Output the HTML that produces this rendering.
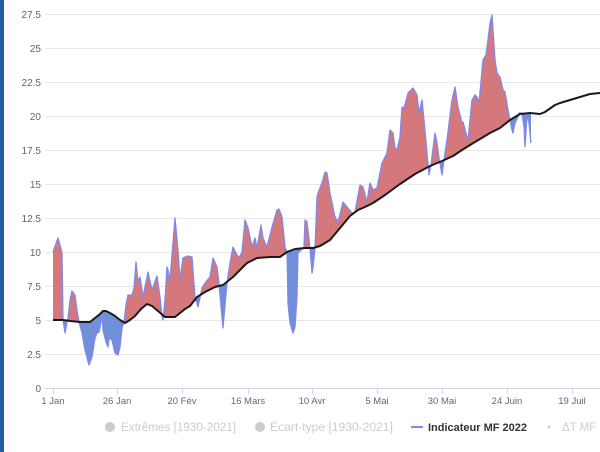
<!DOCTYPE html>
<html><head><meta charset="utf-8"><style>
html,body{margin:0;padding:0;background:#fff;}
svg{display:block;}
text{font-family:"Liberation Sans",sans-serif;}
</style></head><body>
<svg width="600" height="452" viewBox="0 0 600 452" xmlns="http://www.w3.org/2000/svg">
<rect x="0" y="0" width="600" height="452" fill="#fff"/>
<rect x="0" y="0" width="4" height="452" fill="#1f5d9e"/>
<g stroke="#e8e8e8" stroke-width="1">
<line x1="45" y1="14.5" x2="600" y2="14.5"/>
<line x1="45" y1="48.5" x2="600" y2="48.5"/>
<line x1="45" y1="82.5" x2="600" y2="82.5"/>
<line x1="45" y1="116.5" x2="600" y2="116.5"/>
<line x1="45" y1="150.5" x2="600" y2="150.5"/>
<line x1="45" y1="184.5" x2="600" y2="184.5"/>
<line x1="45" y1="218.5" x2="600" y2="218.5"/>
<line x1="45" y1="252.5" x2="600" y2="252.5"/>
<line x1="45" y1="286.5" x2="600" y2="286.5"/>
<line x1="45" y1="320.5" x2="600" y2="320.5"/>
<line x1="45" y1="354.5" x2="600" y2="354.5"/>
</g>
<g fill="#666" font-size="10" text-anchor="end">
<text x="41" y="18">27.5</text>
<text x="41" y="52">25</text>
<text x="41" y="86">22.5</text>
<text x="41" y="120">20</text>
<text x="41" y="154">17.5</text>
<text x="41" y="188">15</text>
<text x="41" y="222">12.5</text>
<text x="41" y="256">10</text>
<text x="41" y="290">7.5</text>
<text x="41" y="324">5</text>
<text x="41" y="358">2.5</text>
<text x="41" y="392">0</text>
</g>
<defs>
<clipPath id="above"><path d="M53,320 L63,320 L70,321 L80,322 L90,322 L95,318 L100,314 L103,311 L106,311 L110,313 L115,316 L120,320 L125,323 L130,320 L135,316 L141,309 L147,304 L152,306 L158,311 L165,317 L175,317 L180,313 L185,309 L190,306 L197,297 L205,292 L215,287 L223,285 L233,277 L240,270 L247,263 L257,258 L270,257 L280,257 L287,252 L295,249 L305,248 L313,248 L320,246 L330,240 L340,228 L350,216 L358,210 L365,207 L373,203 L385,195 L400,184 L415,174 L430,166 L442,161 L453,156 L462,150 L470,145 L480,139 L490,133 L500,128 L510,120 L520,114 L530,113 L540,114 L545,112 L555,105 L560,103 L570,100 L580,97 L590,94 L600,93 L600,0 L53,0 Z"/></clipPath>
<clipPath id="below"><path d="M53,320 L63,320 L70,321 L80,322 L90,322 L95,318 L100,314 L103,311 L106,311 L110,313 L115,316 L120,320 L125,323 L130,320 L135,316 L141,309 L147,304 L152,306 L158,311 L165,317 L175,317 L180,313 L185,309 L190,306 L197,297 L205,292 L215,287 L223,285 L233,277 L240,270 L247,263 L257,258 L270,257 L280,257 L287,252 L295,249 L305,248 L313,248 L320,246 L330,240 L340,228 L350,216 L358,210 L365,207 L373,203 L385,195 L400,184 L415,174 L430,166 L442,161 L453,156 L462,150 L470,145 L480,139 L490,133 L500,128 L510,120 L520,114 L530,113 L540,114 L545,112 L555,105 L560,103 L570,100 L580,97 L590,94 L600,93 L600,400 L53,400 Z"/></clipPath>
</defs>
<!-- red: under data, above normal -->
<path clip-path="url(#above)" fill="#d5787b" d="M53,252 L58,238 L60,245 L62,253 L63,320 L65,333 L67,322 L68,318 L70,300 L72,291 L75,295 L77,310 L79,322 L82,333 L85,350 L89,365 L92,357 L95,338 L97,333 L99,332 L101,322 L102,313 L103,330 L106,342 L108,347 L109,338 L112,340 L115,353 L118,355 L120,347 L122,328 L124,322 L126,305 L128,295 L132,295 L134,288 L136,262 L138,282 L140,277 L143,297 L148,272 L152,290 L157,276 L160,297 L162,317 L163,320 L165,300 L167,267 L168,270 L170,280 L175,218 L178,250 L180,280 L183,258 L188,256 L192,257 L193,270 L195,297 L198,307 L202,288 L205,283 L210,277 L213,258 L217,267 L219,284 L223,328 L227,283 L230,263 L233,247 L237,255 L239,258 L242,252 L245,220 L248,228 L252,247 L255,238 L257,248 L261,225 L263,238 L267,247 L272,227 L277,210 L279,209 L282,217 L285,247 L287,252 L288,303 L290,323 L293,333 L295,327 L297,297 L298,253 L302,249 L304,248 L305,220 L307,222 L310,248 L312,273 L313,267 L315,248 L317,197 L318,193 L322,183 L325,172 L327,173 L330,193 L335,217 L338,222 L343,202 L347,207 L352,213 L355,212 L360,185 L363,187 L367,202 L370,183 L373,190 L377,188 L382,163 L387,153 L390,130 L393,133 L395,148 L397,150 L400,137 L402,107 L404,108 L408,93 L413,88 L417,95 L419,113 L422,100 L424,120 L427,153 L429,175 L431,165 L435,133 L437,143 L439,158 L442,175 L444,160 L447,140 L452,100 L455,87 L458,107 L462,123 L463,122 L467,137 L468,140 L472,100 L475,95 L477,97 L479,103 L483,60 L486,55 L488,40 L490,23 L492,15 L493,30 L495,60 L497,73 L500,77 L503,90 L505,92 L508,110 L510,120 L512,130 L513,133 L515,123 L518,117 L519,113 L522,113 L524,127 L525,147 L527,115 L529,123 L531,143 L531,400 L53,400 Z"/>
<!-- blue: above data, below normal -->
<path clip-path="url(#below)" fill="#6f8fd8" d="M53,252 L58,238 L60,245 L62,253 L63,320 L65,333 L67,322 L68,318 L70,300 L72,291 L75,295 L77,310 L79,322 L82,333 L85,350 L89,365 L92,357 L95,338 L97,333 L99,332 L101,322 L102,313 L103,330 L106,342 L108,347 L109,338 L112,340 L115,353 L118,355 L120,347 L122,328 L124,322 L126,305 L128,295 L132,295 L134,288 L136,262 L138,282 L140,277 L143,297 L148,272 L152,290 L157,276 L160,297 L162,317 L163,320 L165,300 L167,267 L168,270 L170,280 L175,218 L178,250 L180,280 L183,258 L188,256 L192,257 L193,270 L195,297 L198,307 L202,288 L205,283 L210,277 L213,258 L217,267 L219,284 L223,328 L227,283 L230,263 L233,247 L237,255 L239,258 L242,252 L245,220 L248,228 L252,247 L255,238 L257,248 L261,225 L263,238 L267,247 L272,227 L277,210 L279,209 L282,217 L285,247 L287,252 L288,303 L290,323 L293,333 L295,327 L297,297 L298,253 L302,249 L304,248 L305,220 L307,222 L310,248 L312,273 L313,267 L315,248 L317,197 L318,193 L322,183 L325,172 L327,173 L330,193 L335,217 L338,222 L343,202 L347,207 L352,213 L355,212 L360,185 L363,187 L367,202 L370,183 L373,190 L377,188 L382,163 L387,153 L390,130 L393,133 L395,148 L397,150 L400,137 L402,107 L404,108 L408,93 L413,88 L417,95 L419,113 L422,100 L424,120 L427,153 L429,175 L431,165 L435,133 L437,143 L439,158 L442,175 L444,160 L447,140 L452,100 L455,87 L458,107 L462,123 L463,122 L467,137 L468,140 L472,100 L475,95 L477,97 L479,103 L483,60 L486,55 L488,40 L490,23 L492,15 L493,30 L495,60 L497,73 L500,77 L503,90 L505,92 L508,110 L510,120 L512,130 L513,133 L515,123 L518,117 L519,113 L522,113 L524,127 L525,147 L527,115 L529,123 L531,143 L531,0 L53,0 Z"/>
<!-- data line -->
<path fill="none" stroke="#8088ec" stroke-width="1.3" stroke-linejoin="round" d="M53,252 L58,238 L60,245 L62,253 L63,320 L65,333 L67,322 L68,318 L70,300 L72,291 L75,295 L77,310 L79,322 L82,333 L85,350 L89,365 L92,357 L95,338 L97,333 L99,332 L101,322 L102,313 L103,330 L106,342 L108,347 L109,338 L112,340 L115,353 L118,355 L120,347 L122,328 L124,322 L126,305 L128,295 L132,295 L134,288 L136,262 L138,282 L140,277 L143,297 L148,272 L152,290 L157,276 L160,297 L162,317 L163,320 L165,300 L167,267 L168,270 L170,280 L175,218 L178,250 L180,280 L183,258 L188,256 L192,257 L193,270 L195,297 L198,307 L202,288 L205,283 L210,277 L213,258 L217,267 L219,284 L223,328 L227,283 L230,263 L233,247 L237,255 L239,258 L242,252 L245,220 L248,228 L252,247 L255,238 L257,248 L261,225 L263,238 L267,247 L272,227 L277,210 L279,209 L282,217 L285,247 L287,252 L288,303 L290,323 L293,333 L295,327 L297,297 L298,253 L302,249 L304,248 L305,220 L307,222 L310,248 L312,273 L313,267 L315,248 L317,197 L318,193 L322,183 L325,172 L327,173 L330,193 L335,217 L338,222 L343,202 L347,207 L352,213 L355,212 L360,185 L363,187 L367,202 L370,183 L373,190 L377,188 L382,163 L387,153 L390,130 L393,133 L395,148 L397,150 L400,137 L402,107 L404,108 L408,93 L413,88 L417,95 L419,113 L422,100 L424,120 L427,153 L429,175 L431,165 L435,133 L437,143 L439,158 L442,175 L444,160 L447,140 L452,100 L455,87 L458,107 L462,123 L463,122 L467,137 L468,140 L472,100 L475,95 L477,97 L479,103 L483,60 L486,55 L488,40 L490,23 L492,15 L493,30 L495,60 L497,73 L500,77 L503,90 L505,92 L508,110 L510,120 L512,130 L513,133 L515,123 L518,117 L519,113 L522,113 L524,127 L525,147 L527,115 L529,123 L531,143"/>
<!-- normal line -->
<path fill="none" stroke="#1a1a1a" stroke-width="2" stroke-linejoin="round" d="M53,320 L63,320 L70,321 L80,322 L90,322 L95,318 L100,314 L103,311 L106,311 L110,313 L115,316 L120,320 L125,323 L130,320 L135,316 L141,309 L147,304 L152,306 L158,311 L165,317 L175,317 L180,313 L185,309 L190,306 L197,297 L205,292 L215,287 L223,285 L233,277 L240,270 L247,263 L257,258 L270,257 L280,257 L287,252 L295,249 L305,248 L313,248 L320,246 L330,240 L340,228 L350,216 L358,210 L365,207 L373,203 L385,195 L400,184 L415,174 L430,166 L442,161 L453,156 L462,150 L470,145 L480,139 L490,133 L500,128 L510,120 L520,114 L530,113 L540,114 L545,112 L555,105 L560,103 L570,100 L580,97 L590,94 L600,93"/>
<!-- x axis -->
<line x1="45" y1="388.5" x2="600" y2="388.5" stroke="#ccd6eb" stroke-width="1"/>
<g stroke="#ccd6eb" stroke-width="1">
<line x1="53.5" y1="388" x2="53.5" y2="394"/>
<line x1="117.5" y1="388" x2="117.5" y2="394"/>
<line x1="182.5" y1="388" x2="182.5" y2="394"/>
<line x1="248.5" y1="388" x2="248.5" y2="394"/>
<line x1="312.5" y1="388" x2="312.5" y2="394"/>
<line x1="377.5" y1="388" x2="377.5" y2="394"/>
<line x1="442.5" y1="388" x2="442.5" y2="394"/>
<line x1="507.5" y1="388" x2="507.5" y2="394"/>
<line x1="572.5" y1="388" x2="572.5" y2="394"/>
</g>
<g fill="#666" font-size="9.5" text-anchor="middle">
<text x="53" y="404">1 Jan</text>
<text x="117" y="404">26 Jan</text>
<text x="182" y="404">20 Fév</text>
<text x="248" y="404">16 Mars</text>
<text x="312" y="404">10 Avr</text>
<text x="377" y="404">5 Mai</text>
<text x="442" y="404">30 Mai</text>
<text x="507" y="404">24 Juin</text>
<text x="572" y="404">19 Juil</text>
</g>
<!-- legend -->
<circle cx="110" cy="427" r="5" fill="#cccccc"/>
<text x="121" y="431" font-size="11.5" fill="#cccccc" textLength="115" lengthAdjust="spacingAndGlyphs">Extrêmes [1930-2021]</text>
<circle cx="260" cy="427" r="5" fill="#cccccc"/>
<text x="270" y="431" font-size="11.5" fill="#cccccc" textLength="123" lengthAdjust="spacingAndGlyphs">Écart-type [1930-2021]</text>
<line x1="411" y1="427" x2="423" y2="427" stroke="#8088ec" stroke-width="2"/>
<text x="428" y="431" font-size="11" font-weight="bold" fill="#333" textLength="99" lengthAdjust="spacingAndGlyphs">Indicateur MF 2022</text>
<circle cx="549" cy="427" r="1.5" fill="#cccccc"/>
<text x="562" y="431" font-size="11.5" fill="#cccccc">ΔT MF 2022</text>
</svg>
</body></html>
